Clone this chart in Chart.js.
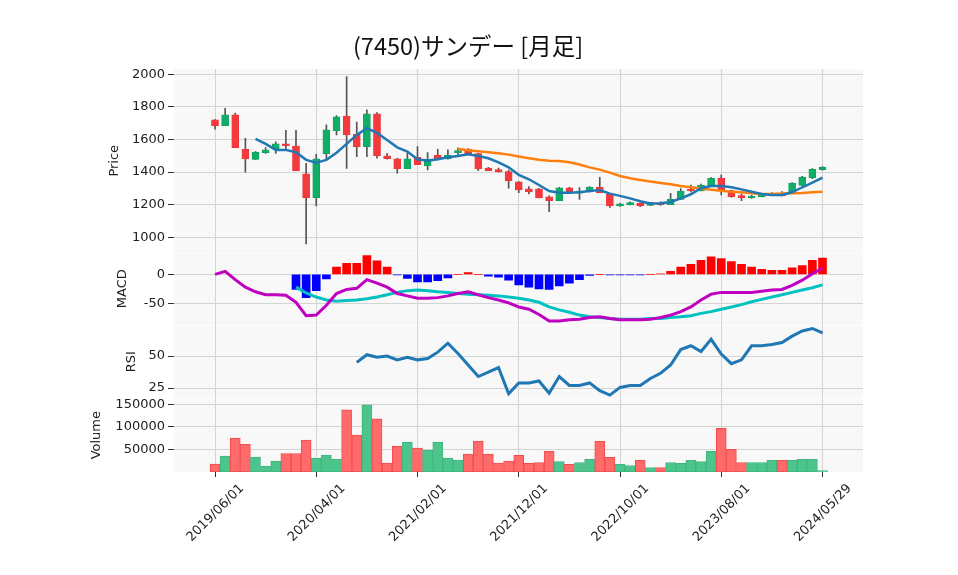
<!DOCTYPE html>
<html>
<head>
<meta charset="utf-8">
<script src="https://cdn.jsdelivr.net/npm/chart.js@4"></script>
<style>
  html, body { margin: 0; padding: 0; background: #fff; }
  #wrap { width: 958px; height: 575px; }
</style>
</head>
<body>
<div id="wrap"><canvas id="chart" width="958" height="575"></canvas></div>
<script>
const chartTitle = '(7450)サンデー [月足]';

// x ticks (candle index -> label)
const xTickIdx = [0, 10, 20, 30, 40, 50, 60];
const xTickLabels = ['2019/06/01', '2020/04/01', '2021/02/01', '2021/12/01', '2022/10/01', '2023/08/01', '2024/05/29'];

// monthly candles
const opens = [1720, 1685, 1751, 1540, 1477, 1519, 1544, 1573, 1560, 1389,
               1243, 1513, 1654, 1744, 1632, 1556, 1757, 1499, 1481, 1421,
               1491, 1440, 1503, 1481, 1519, 1540, 1513, 1425, 1415, 1403,
               1340, 1297, 1297, 1248, 1225, 1303, 1270, 1278, 1307, 1264,
               1192, 1200, 1209, 1196, 1211, 1200, 1233, 1288, 1284, 1317,
               1362, 1286, 1256, 1243, 1250, 1256, 1270, 1276, 1319, 1366, 1415];
const highs = [1722, 1791, 1761, 1607, 1525, 1550, 1585, 1656, 1656, 1454,
               1509, 1689, 1746, 1986, 1706, 1781, 1765, 1515, 1485, 1515,
               1556, 1519, 1540, 1536, 1548, 1544, 1515, 1429, 1425, 1413,
               1342, 1311, 1301, 1254, 1307, 1307, 1305, 1311, 1368, 1268,
               1209, 1217, 1211, 1215, 1217, 1270, 1299, 1321, 1327, 1366,
               1383, 1290, 1266, 1258, 1264, 1274, 1280, 1335, 1374, 1421, 1433];
const lows = [1663, 1685, 1550, 1399, 1477, 1515, 1515, 1544, 1409, 959,
              1192, 1475, 1628, 1423, 1495, 1495, 1485, 1479, 1393, 1421,
              1446, 1413, 1475, 1479, 1505, 1513, 1409, 1409, 1399, 1301,
              1274, 1266, 1241, 1158, 1225, 1278, 1233, 1278, 1274, 1184,
              1190, 1198, 1188, 1194, 1196, 1200, 1233, 1278, 1284, 1317,
              1260, 1246, 1225, 1239, 1248, 1256, 1254, 1276, 1317, 1360, 1411];
const closes = [1685, 1751, 1550, 1483, 1522, 1536, 1573, 1562, 1409, 1243,
                1481, 1659, 1738, 1630, 1556, 1757, 1501, 1483, 1421, 1481,
                1446, 1479, 1481, 1503, 1532, 1513, 1419, 1409, 1403, 1348,
                1290, 1278, 1241, 1225, 1303, 1278, 1284, 1307, 1274, 1192,
                1205, 1213, 1192, 1213, 1200, 1233, 1284, 1285, 1319, 1362,
                1290, 1250, 1241, 1252, 1260, 1270, 1256, 1331, 1370, 1417, 1429];

// moving averages as drawn
const ma5 = [null, null, null, null, 1603, 1573, 1536, 1536, 1522, 1475,
             1458, 1475, 1519, 1573, 1628, 1669, 1640, 1597, 1552, 1526,
             1479, 1470, 1479, 1491, 1499, 1509, 1499, 1485, 1460, 1429,
             1383, 1356, 1321, 1284, 1274, 1274, 1276, 1284, 1290, 1268,
             1254, 1239, 1221, 1207, 1209, 1217, 1239, 1264, 1301, 1315,
             1315, 1307, 1294, 1280, 1266, 1260, 1260, 1276, 1307, 1335, 1366];
const ma25 = [null, null, null, null, null, null, null, null, null, null,
              null, null, null, null, null, null, null, null, null, null,
              null, null, null, null, 1542, 1534, 1528, 1522, 1515, 1507,
              1495, 1485, 1475, 1469, 1468, 1460, 1446, 1429, 1415, 1397,
              1376, 1362, 1352, 1342, 1333, 1325, 1315, 1307, 1299, 1292,
              1286, 1280, 1276, 1270, 1266, 1266, 1268, 1270, 1272, 1276, 1280];

// MACD panel
const macd = [0, 5, -9, -22, -30, -35, -35, -36, -48, -71,
              -70, -53, -33, -26, -24, -9, -15, -22, -33, -37,
              -41, -41, -40, -37, -33, -30, -35, -40, -44, -49,
              -56, -60, -69, -80, -80, -78, -77, -74, -73, -76,
              -78, -78, -78, -77, -74, -70, -64, -56, -44, -34,
              -31, -31, -31, -31, -29, -27, -26, -19, -10, 1, 11];
const signal = [null, null, null, null, null, null, null, null, -22, -32,
                -39, -44, -46, -45, -44, -42, -39, -35, -31, -28,
                -27, -28, -30, -31, -33, -34, -35, -36, -37, -39,
                -41, -44, -48, -56, -61, -65, -70, -73, -74, -76,
                -77, -77, -77, -76, -76, -74, -73, -71, -67, -64,
                -60, -56, -52, -47, -43, -39, -35, -31, -27, -23, -18];
const hist = [null, null, null, null, null, null, null, null, -26, -40,
              -28, -8, 12.5, 19, 19, 32, 23, 12.5, -1, -7,
              -13, -13, -11, -6, 0, 3, 0, -3, -5, -10,
              -18, -22, -25, -26, -20, -15, -9, -2, 0, -1,
              -1, -1, -1, 0, 1, 5, 12.5, 17, 24, 30,
              27, 22, 17, 12.5, 8.5, 7, 7, 11, 15, 24, 28];

// RSI panel
const rsi = [null, null, null, null, null, null, null, null, null, null,
             null, null, null, null, 45, 51, 49, 50, 47, 49,
             47, 48, 53, 60, 52, 43, 34, 37.5, 41, 20.5,
             29, 29, 30.5, 21, 34, 27, 27, 29, 23, 19.5,
             25.5, 27, 27, 32.5, 36.5, 43, 55, 58, 53.5, 63,
             51.5, 44, 47, 58, 58, 59, 60.5, 65.5, 69.5, 71.5, 68];

// volume
const volumes = [17400, 35000, 75000, 61000, 33000, 13000, 24000, 41000, 41000, 70700,
                 30700, 37400, 28500, 137400, 81900, 148500, 117400, 19600, 57400, 66300,
                 53000, 48500, 66300, 30700, 26300, 39600, 68500, 39600, 19600, 24000,
                 37000, 19000, 21000, 45600, 23300, 16700, 21000, 27800, 67800, 32200,
                 16700, 14400, 25600, 10000, 10000, 21000, 19000, 25600, 23300, 45600,
                 96700, 50000, 21000, 21000, 21000, 25600, 25600, 25600, 27800, 27800, 3300];

// axis ticks
const priceTicks = [1000, 1200, 1400, 1600, 1800, 2000];
const macdTicks = [-50, 0];
const rsiTicks = [25, 50];
const volTicks = [50000, 100000, 150000];

// ---- build datasets ----
const GREEN = '#10ad66', RED = '#f53a3d';
const candleUp = closes.map((c, i) => c >= opens[i]);
const volUp = closes.map((c, i) => i > 0 && c >= closes[i - 1]);
const pts = arr => arr.map((v, i) => ({x: i, y: v})).filter(p => p.y !== null);

const FONT = {family: 'DejaVu Sans', size: 13};
const TXT = '#222';

const panelBg = {
    id: 'panelBg',
    beforeDraw(chart) {
        const {ctx, chartArea} = chart;
        ctx.save();
        ['yP', 'yM', 'yR', 'yV'].forEach((id, k) => {
            const s = chart.scales[id];
            const top = k === 0 ? s.top : s.top + 1;
            ctx.fillStyle = '#f8f8f8';
            ctx.fillRect(chartArea.left, top, chartArea.right - chartArea.left, s.bottom - top);
        });
        ctx.restore();
    }
};

function yAxis(weight, min, max, ticks, label, titlePad) {
    return {
        type: 'linear',
        position: 'left',
        stack: 'panes',
        stackWeight: weight,
        min: min,
        max: max,
        afterBuildTicks: s => { s.ticks = ticks.map(v => ({value: v})); },
        afterFit: s => { s.width = 101; },
        grid: {color: '#d4d4d4', tickColor: '#333', tickLength: 6},
        border: {display: false},
        ticks: {color: TXT, font: FONT, padding: 3, callback: v => String(v)},
        title: {display: true, text: label, color: TXT, font: FONT, padding: {top: titlePad, bottom: 0}}
    };
}

new Chart(document.getElementById('chart'), {
    type: 'bar',
    data: {
        datasets: [
            // price panel
            {
                type: 'line', yAxisID: 'yP', order: 1, data: pts(ma5),
                borderColor: '#1f77b4', borderWidth: 2.5, pointRadius: 0, fill: false
            },
            {
                type: 'line', yAxisID: 'yP', order: 1, data: pts(ma25),
                borderColor: '#ff7f0e', borderWidth: 2.5, pointRadius: 0, fill: false
            },
            {
                yAxisID: 'yP', order: 2, grouped: false, barThickness: 7, minBarLength: 1.5,
                data: opens.map((o, i) => ({x: i, y: [o, closes[i]]})),
                backgroundColor: candleUp.map(u => u ? GREEN : RED),
                borderColor: candleUp.map(u => u ? '#0e9c5b' : '#e83336'),
                borderWidth: 0.6, borderSkipped: false
            },
            {
                yAxisID: 'yP', order: 3, grouped: false, barThickness: 1,
                data: lows.map((l, i) => ({x: i, y: [l, highs[i]]})),
                backgroundColor: '#555'
            },
            // MACD panel
            {
                type: 'line', yAxisID: 'yM', order: 1, data: pts(macd),
                borderColor: '#c000c0', borderWidth: 3, pointRadius: 0, fill: false
            },
            {
                type: 'line', yAxisID: 'yM', order: 1, data: pts(signal),
                borderColor: '#00c0c0', borderWidth: 3, pointRadius: 0, fill: false
            },
            {
                yAxisID: 'yM', order: 2, grouped: false, barThickness: 8,
                data: pts(hist),
                backgroundColor: hist.filter(v => v !== null).map(v => v >= 0 ? '#ff0000' : '#0000ff')
            },
            // RSI panel
            {
                type: 'line', yAxisID: 'yR', order: 1, data: pts(rsi),
                borderColor: '#1f77b4', borderWidth: 3, pointRadius: 0, fill: false
            },
            // volume panel
            {
                yAxisID: 'yV', order: 2, grouped: false, barThickness: 10,
                data: pts(volumes),
                backgroundColor: volUp.map(u => u ? '#4bc58c' : '#ff6b6b'),
                borderColor: volUp.map(u => u ? '#3fb57f' : '#f24b4c'),
                borderWidth: 1, borderSkipped: false
            }
        ]
    },
    options: {
        responsive: false,
        animation: false,
        events: [],
        layout: {padding: {left: 73, right: 95, top: 0, bottom: 0}},
        plugins: {
            legend: {display: false},
            tooltip: {enabled: false},
            title: {
                display: true,
                text: chartTitle,
                color: '#111',
                font: {family: 'Noto Sans CJK JP', size: 23.5, weight: 'normal'},
                padding: {top: 32, bottom: 8.8}
            }
        },
        scales: {
            x: {
                type: 'linear',
                min: -4.05,
                max: 64,
                offset: false,
                afterBuildTicks: s => { s.ticks = xTickIdx.map(v => ({value: v})); },
                afterFit: s => { s.height = 103; },
                grid: {offset: false, color: '#d4d4d4', tickColor: '#333', tickLength: 5},
                border: {display: false},
                ticks: {
                    autoSkip: false, minRotation: 45, maxRotation: 45,
                    labelOffset: 27, padding: 4, color: TXT, font: FONT,
                    callback: v => xTickLabels[xTickIdx.indexOf(v)]
                }
            },
            // defined bottom to top
            yV: yAxis(73.7, 0, 163000, volTicks, 'Volume', 16),
            yR: yAxis(73.3, 17, 74.2, rsiTicks, 'RSI', 51),
            yM: yAxis(72.5, -87, 37.5, macdTicks, 'MACD', 42),
            yP: yAxis(183.5, 907, 2032, priceTicks, 'Price', 34)
        }
    },
    plugins: [panelBg]
});
</script>
</body>
</html>
